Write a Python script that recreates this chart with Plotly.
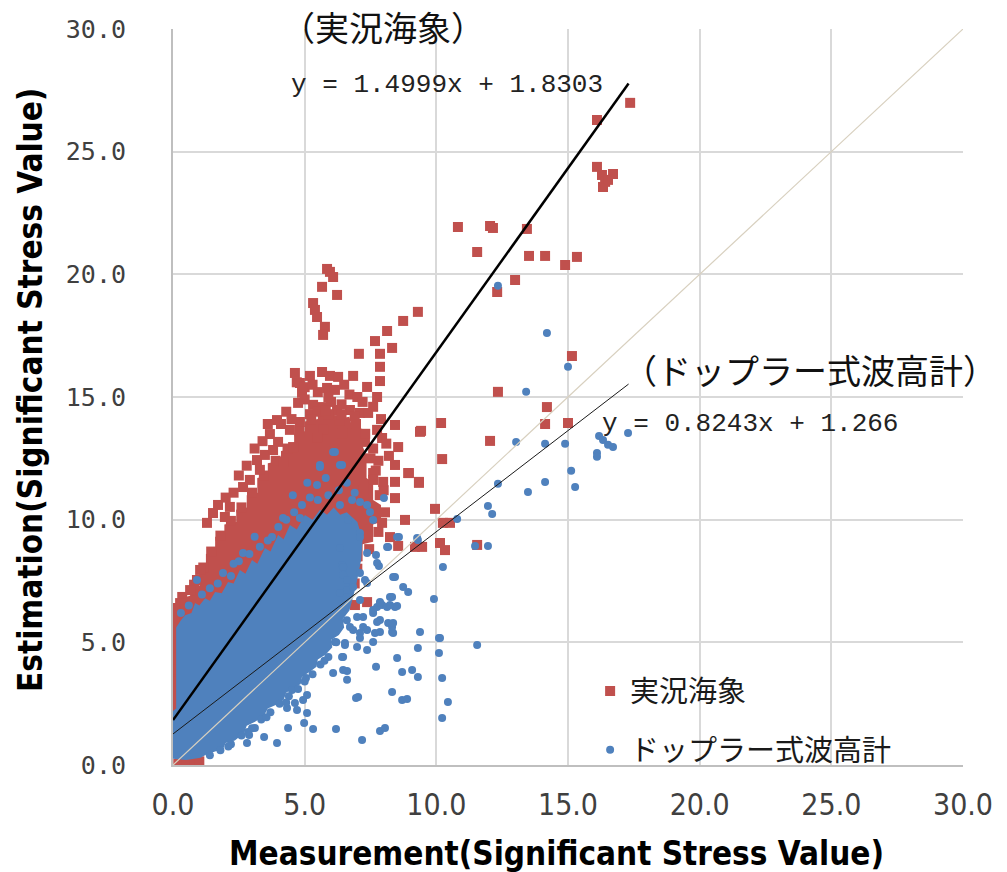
import plotly.graph_objects as go

# ---- data -------------------------------------------------------------
tick_vals = [0, 5, 10, 15, 20, 25, 30]
tick_text = ["0.0", "5.0", "10.0", "15.0", "20.0", "25.0", "30.0"]

series_names = ["実況海象", "ドップラー式波高計"]

# regression coefficients (slope, intercept) and the x span of each fit
fit_red = (1.4999, 1.8303)
fit_blue = (0.8243, 1.266)
fit_x_span = [0.0, 17.3]

# saturated core of each cloud, where the markers overlap completely
red_core_x = [0.0, 0.3, 0.3, 0.65, 0.65, 1.0, 1.0, 1.25, 1.25, 1.6, 1.6, 1.95, 1.95, 2.4,
              2.4, 2.8, 2.8, 3.2, 3.2, 3.6, 3.6, 4.1, 4.1, 4.6, 4.6, 5.0, 5.0, 5.5, 5.5,
              6.1, 6.2, 6.7, 6.8, 7.2, 7.2, 7.35, 7.35, 7.6, 7.6, 7.9, 7.9, 7.6, 7.6,
              7.2, 7.2, 6.7, 6.7, 5.58, 4.06, 2.16, 0.65, 0.0]
red_core_y = [6.52, 6.52, 6.8, 6.9, 7.3, 7.3, 7.9, 8.0, 8.6, 8.7, 9.3, 9.3, 9.8, 9.9,
              10.4, 10.5, 11.0, 11.1, 11.7, 11.8, 12.3, 12.4, 12.8, 12.9, 13.5, 13.6,
              14.0, 14.1, 14.4, 14.4, 14.1, 14.2, 13.8, 13.7, 13.0, 12.6, 11.7, 11.5,
              10.8, 10.6, 9.9, 9.8, 9.1, 9.0, 8.3, 8.2, 7.5, 5.91, 4.28, 2.65, 1.63, 1.43]

blue_core_x = [0.0, 0.0, 0.12, 0.12, 0.3, 0.46, 0.7, 0.84, 1.0, 1.22, 1.4, 1.6, 1.85,
               2.09, 2.3, 2.54, 2.75, 3.0, 3.2, 3.49, 3.7, 3.99, 4.2, 4.44, 4.7, 5.01,
               5.3, 5.58, 5.85, 6.1, 6.35, 6.6, 7.0, 7.2, 7.15, 6.95, 6.7, 6.45, 6.5,
               6.3, 6.0, 6.05, 5.8, 5.5, 5.45, 5.2, 4.9, 4.85, 4.6, 4.3, 4.2, 3.9, 3.6,
               3.45, 3.1, 2.8, 2.7, 2.35, 2.0, 1.9, 1.6, 1.3, 1.05, 0.5, 0.0]
blue_core_y = [0.25, 2.2, 2.3, 5.6, 5.9, 6.1, 6.2, 6.6, 6.5, 6.8, 6.7, 7.05, 7.0, 7.46,
               7.4, 7.95, 7.8, 8.36, 8.2, 8.85, 8.7, 9.38, 9.2, 9.78, 9.6, 10.19, 10.0,
               10.4, 10.2, 10.5, 10.2, 10.3, 9.9, 9.2, 8.4, 7.3, 6.3, 5.95, 5.6, 5.3,
               5.1, 4.8, 4.5, 4.3, 4.0, 3.8, 3.6, 3.3, 3.15, 2.95, 2.65, 2.45, 2.3, 2.0,
               1.75, 1.6, 1.3, 1.0, 0.9, 0.65, 0.55, 0.45, 0.3, 0.2, 0.25]

red_points = [
    (17.36, 26.99), (16.1, 26.29), (16.1, 24.38), (16.29, 24.05), (16.41, 23.77),
    (16.33, 23.56), (16.71, 24.09), (16.52, 23.85),
    (10.82, 21.93), (12.04, 21.97), (12.15, 21.89), (13.44, 21.85), (11.55, 20.91),
    (13.52, 20.75), (14.13, 20.75), (14.89, 20.38), (15.34, 20.71), (12.99, 19.77),
    (12.31, 19.28),
    (15.15, 16.67), (12.34, 15.21), (14.2, 14.59), (14.13, 13.9), (15.0, 13.94),
    (12.04, 13.21), (10.18, 13.94), (9.42, 13.62), (10.22, 12.47), (8.93, 11.9),
    (9.34, 11.5),
    (5.85, 20.22), (6.08, 19.89), (5.66, 19.49), (6.23, 19.16), (5.96, 20.1),
    (5.32, 18.83), (5.39, 18.55), (5.47, 18.26), (5.77, 17.86), (5.7, 17.53),
    (9.3, 18.47), (8.74, 18.1), (8.13, 17.69), (7.67, 17.28), (8.32, 17.0),
    (7.86, 16.76), (7.06, 16.76), (7.86, 16.23), (7.86, 15.65), (6.84, 15.86),
    (4.63, 15.98), (5.2, 15.86), (5.66, 16.02), (5.96, 15.86), (6.27, 15.82),
    (4.82, 15.57), (4.9, 15.17), (4.75, 14.76), (5.85, 15.37), (6.15, 15.29),
    (7.37, 15.41), (7.75, 15.0),
    (5.32, 14.68), (5.66, 14.59), (6.23, 14.47), (6.72, 14.47), (7.1, 14.35),
    (7.41, 14.35), (3.95, 14.06), (4.82, 13.98), (6.34, 14.06), (4.44, 13.66),
    (3.68, 13.49), (5.7, 13.66), (6.42, 13.53),
    (8.43, 13.86), (9.38, 13.58), (7.75, 13.66), (7.94, 13.33), (7.29, 13.17),
    (3.99, 13.17), (5.47, 13.33), (8.55, 12.96),
    (4.7, 15.6), (5.0, 15.4), (5.3, 15.5), (5.5, 15.2), (5.9, 15.0), (6.5, 15.5),
    (6.7, 15.1), (7.0, 15.0), (7.2, 14.8), (5.0, 14.9), (5.2, 14.3), (5.5, 14.4),
    (5.9, 14.3), (6.0, 14.8), (6.4, 14.7), (6.9, 14.2), (7.6, 14.6), (7.9, 14.1),
    (8.1, 13.1), (7.6, 12.9), (7.8, 12.4), (8.2, 12.6), (7.7, 12.0), (8.0, 11.2),
    (4.3, 14.4), (4.1, 13.9), (4.5, 14.1), (3.6, 13.9), (3.4, 13.2), (3.1, 12.9),
    (2.8, 12.2), (2.5, 11.8), (2.3, 11.1), (2.0, 10.9),
    (0.35, 6.85), (0.8, 7.35), (1.15, 8.05), (1.45, 8.7), (1.8, 9.35), (2.2, 9.95),
    (2.6, 10.5), (3.0, 11.1), (3.45, 11.8), (3.9, 12.4), (4.35, 12.9), (4.8, 13.6),
    (5.25, 14.1), (5.8, 14.45), (6.4, 14.3), (6.95, 13.9), (7.3, 13.5), (7.5, 12.5),
    (7.6, 11.9), (7.85, 11.0), (8.05, 10.3), (7.8, 9.5), (7.45, 8.8), (7.0, 8.0),
    (6.9, 7.4),
    (8.43, 12.23), (8.96, 11.9), (9.34, 11.54), (7.6, 11.62), (7.98, 11.54),
    (8.43, 11.54), (7.22, 11.21), (8.43, 10.88), (9.95, 10.44), (10.25, 9.87),
    (10.52, 9.87), (8.81, 9.99), (7.94, 9.87), (8.24, 9.29), (8.55, 8.93),
    (9.19, 8.89), (9.46, 8.89), (10.14, 9.05), (10.33, 8.76), (11.55, 8.97),
    (6.91, 8.48), (6.99, 8.85), (7.37, 6.64), (6.91, 6.52),
    (1.52, 10.27), (1.71, 10.6), (1.97, 10.11), (1.29, 9.87), (2.16, 10.52),
    (0.91, 7.54), (0.65, 7.13), (0.27, 6.6), (0.46, 6.32), (0.19, 5.91),
    (1.03, 7.95), (2.66, 11.33), (2.92, 11.62), (3.19, 12.43), (3.49, 12.64),
    (3.8, 12.84), (4.56, 12.96), (4.18, 12.35), (3.3, 12.03),
    (0.05, 6.4), (0.05, 5.9), (0.05, 5.4), (0.05, 4.9), (0.05, 4.4), (0.05, 3.9),
    (0.05, 3.4), (0.05, 2.8), (0.05, 2.3),
    (0.2, 0.05), (0.5, 0.05), (0.8, 0.1), (1.0, 0.15),
]

blue_points = [
    (12.34, 19.53), (14.2, 17.61), (15.0, 16.23), (13.41, 15.21), (13.03, 13.17),
    (14.13, 13.09), (14.89, 13.09), (16.18, 13.41), (16.33, 13.25), (16.52, 13.05),
    (16.71, 12.96), (16.1, 12.72), (16.1, 12.56), (17.28, 13.53),
    (15.12, 11.99), (14.13, 11.54), (15.27, 11.33), (13.48, 11.13), (12.34, 11.46),
    (11.96, 10.56), (12.12, 10.23), (10.79, 10.03), (11.96, 8.93), (11.47, 8.93),
    (10.25, 8.07), (9.91, 6.77),
    (11.55, 4.89), (10.1, 5.18), (10.1, 4.57), (10.22, 3.55), (10.44, 2.57),
    (10.22, 1.92),
    (9.3, 9.17), (8.58, 9.29), (8.17, 8.89), (7.71, 8.56), (7.82, 8.11), (8.43, 7.66),
    (8.74, 7.26), (8.93, 7.05), (8.32, 6.85), (8.51, 6.48), (7.94, 6.52),
    (7.86, 5.42), (8.36, 5.38), (9.38, 5.42), (10.14, 5.18), (9.3, 4.77), (8.51, 4.36),
    (7.71, 4.0), (8.7, 3.79), (9.08, 3.87), (9.3, 3.59),
    (7.03, 2.77), (8.32, 2.98), (8.7, 2.65), (8.89, 2.69), (7.86, 1.39), (8.05, 1.51),
    (7.18, 1.02),
    (6.46, 4.4), (6.61, 3.83), (6.53, 4.97),
    (3.11, 1.51), (2.89, 1.22), (3.46, 1.14), (2.81, 0.9), (3.95, 0.9), (4.37, 1.51),
    (4.98, 1.71), (5.32, 1.47), (6.19, 1.47),
    (4.33, 2.32), (4.71, 2.24), (4.63, 2.53), (5.09, 2.12), (4.94, 2.65), (4.52, 3.06),
    (5.09, 2.85), (6.08, 3.75), (6.46, 3.87), (6.61, 3.47), (6.42, 4.4), (6.53, 4.89),
    (6.15, 5.01), (6.95, 2.73), (8.32, 5.42), (7.67, 5.38),
    (6.6, 5.9), (6.2, 5.0), (5.9, 4.4), (5.6, 4.1), (5.3, 3.7), (5.0, 3.4), (4.75, 3.1),
    (4.4, 2.8), (4.05, 2.5), (3.7, 2.15), (3.35, 1.85), (3.0, 1.5), (2.6, 1.2),
    (2.2, 0.85), (1.8, 0.6), (1.4, 0.4), (5.75, 4.25), (5.05, 3.55), (4.3, 2.55),
    (3.55, 1.95), (2.85, 1.35), (2.1, 0.75),
    (0.3, 6.2), (0.6, 6.5), (1.1, 6.95), (1.4, 7.2), (1.7, 7.4), (2.2, 7.7), (2.5, 8.3),
    (2.9, 8.6), (3.3, 8.9), (3.6, 9.15), (4.0, 9.7), (4.3, 10.0), (4.6, 10.3),
    (4.9, 10.6), (5.2, 10.9), (5.5, 10.8), (5.9, 11.0), (6.3, 11.2), (3.1, 9.3),
    (2.3, 8.2), (4.55, 11.0), (5.1, 11.5), (5.8, 11.7), (6.6, 11.5), (6.9, 11.1),
    (6.08, 12.76), (5.47, 11.41), (5.58, 12.23), (6.42, 12.23), (6.15, 12.76),
    (5.58, 12.15), (6.34, 12.23), (7.1, 10.72), (8.01, 10.88), (4.18, 10.07),
    (4.82, 10.07), (3.76, 9.29), (2.66, 8.64), (1.9, 7.83), (0.91, 7.54),
    (7.6, 9.99), (7.1, 9.46), (7.37, 8.64), (8.13, 8.89), (8.51, 9.29), (9.27, 9.25),
    (7.75, 8.23), (8.36, 7.66), (6.42, 8.15), (6.46, 7.75), (7.1, 7.83), (6.61, 7.13),
    (7.37, 7.42), (6.34, 10.6), (6.8, 10.8), (7.37, 10.6), (7.48, 10.31), (6.65, 9.99),
    (7.1, 9.29), (6.34, 8.85), (6.46, 8.07), (6.61, 7.54), (7.29, 7.54), (6.84, 7.26),
    (6.34, 7.01), (6.53, 6.44), (6.99, 6.03), (6.72, 5.63), (7.22, 5.63), (7.1, 5.38),
    (7.6, 6.2), (7.75, 6.44), (7.86, 6.6), (8.13, 6.44), (8.24, 6.85), (8.43, 6.44),
    (7.86, 5.91), (8.17, 5.79), (8.32, 5.63),
    (7.1, 6.73), (7.6, 6.32), (7.86, 6.64), (8.24, 6.52), (7.22, 6.03), (7.75, 5.83),
    (8.36, 5.79), (7.37, 5.5), (7.1, 5.18), (7.6, 5.01), (6.99, 4.81), (7.37, 4.69),
    (6.84, 5.5),
]

# ---- styling ----------------------------------------------------------
RED = "#C0504D"
BLUE = "#4F81BD"
JP_FONT = "Noto Sans CJK JP"
EQ_FONT = "Liberation Mono, DejaVu Sans Mono, monospace"
TITLE_FONT = "DejaVu Sans Condensed, DejaVu Sans, sans-serif"

red_x = [p[0] for p in red_points]
red_y = [p[1] for p in red_points]
blue_x = [p[0] for p in blue_points]
blue_y = [p[1] for p in blue_points]

fig = go.Figure()

# red cloud: solid core then the individual squares
fig.add_trace(go.Scatter(x=red_core_x, y=red_core_y, mode="lines", fill="toself",
                         fillcolor=RED, line=dict(width=0, color=RED),
                         hoverinfo="skip", showlegend=False, legendgroup="red"))
fig.add_trace(go.Scatter(x=red_x, y=red_y, mode="markers", name=series_names[0],
                         legendgroup="red",
                         marker=dict(symbol="square", size=10, color=RED)))

# blue cloud drawn over the red one
fig.add_trace(go.Scatter(x=blue_core_x, y=blue_core_y, mode="lines", fill="toself",
                         fillcolor=BLUE, line=dict(width=0, color=BLUE),
                         hoverinfo="skip", showlegend=False, legendgroup="blue"))
fig.add_trace(go.Scatter(x=blue_x, y=blue_y, mode="markers", name=series_names[1],
                         legendgroup="blue",
                         marker=dict(symbol="circle", size=8, color=BLUE)))

# 1:1 reference line
fig.add_trace(go.Scatter(x=[0, 30], y=[0, 30], mode="lines",
                         line=dict(color="#d8d0bf", width=1.2),
                         hoverinfo="skip", showlegend=False))

# linear fits
def fit_line(coef):
    a, b = coef
    return [a * x + b for x in fit_x_span]

fig.add_trace(go.Scatter(x=fit_x_span, y=fit_line(fit_red), mode="lines",
                         line=dict(color="#000000", width=2.5),
                         hoverinfo="skip", showlegend=False))
fig.add_trace(go.Scatter(x=fit_x_span, y=fit_line(fit_blue), mode="lines",
                         line=dict(color="#1a1a1a", width=1),
                         hoverinfo="skip", showlegend=False))

eq_red = "y = {:.4f}x + {:.4f}".format(*fit_red)
eq_blue = "y = {:.4f}x + {:.3f}".format(*fit_blue)

annotations = [
    dict(x=10.4, y=27.7, text=eq_red, font=dict(family=EQ_FONT, size=26, color="#222222")),
    dict(x=24.2, y=16.14, text="（ドップラー式波高計）", font=dict(family=JP_FONT, size=34, color="#111111")),
    dict(x=21.9, y=13.9, text=eq_blue, font=dict(family=EQ_FONT, size=26, color="#222222")),
]
for a in annotations:
    a.update(xref="x", yref="y", showarrow=False, xanchor="center", yanchor="middle")

annotations.append(dict(text="（実況海象）", xref="paper", yref="paper", x=0.266, y=1.003,
                        xanchor="center", yanchor="middle", showarrow=False,
                        font=dict(family=JP_FONT, size=34, color="#111111")))
annotations.append(dict(text="<b>Measurement(Significant Stress Value)</b>",
                        xref="paper", yref="paper", x=0.485, y=-0.1196,
                        xanchor="center", yanchor="middle", showarrow=False,
                        font=dict(family=TITLE_FONT, size=33, color="#000000")))
annotations.append(dict(text="<b>Estimation(Significant Stress Value)</b>",
                        xref="paper", yref="paper", x=-0.181, y=0.5095, textangle=-90,
                        xanchor="center", yanchor="middle", showarrow=False,
                        font=dict(family=TITLE_FONT, size=33, color="#000000")))

axis_common = dict(range=[0, 30], tickvals=tick_vals, ticktext=tick_text,
                   showgrid=True, gridcolor="#d9d9d9", gridwidth=2,
                   showline=True, linecolor="#bfbfbf", linewidth=2,
                   zeroline=False, ticks="", fixedrange=True)

fig.update_layout(
    width=1007, height=872,
    margin=dict(l=173, r=44, t=29, b=107),
    paper_bgcolor="white", plot_bgcolor="white",
    xaxis=dict(**axis_common, ticklabelstandoff=12,
               tickfont=dict(family="Liberation Sans Narrow, DejaVu Sans Condensed, sans-serif",
                             size=30, color="#404040")),
    yaxis=dict(**axis_common, ticklabelstandoff=40,
               tickfont=dict(family="DejaVu Sans Mono, monospace", size=25, color="#404040")),
    legend=dict(x=0.528, y=0.135, xanchor="left", yanchor="top",
                bgcolor="rgba(0,0,0,0)", traceorder="grouped", tracegroupgap=18,
                font=dict(family=JP_FONT, size=29, color="#1a1a1a")),
    annotations=annotations,
    showlegend=True,
)

fig.write_html("out.html")
